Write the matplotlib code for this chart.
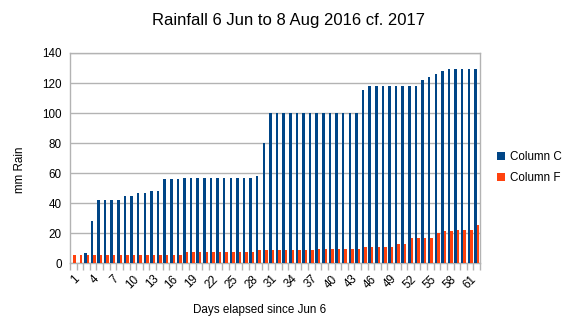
import numpy as np
import matplotlib
matplotlib.use("Agg")
import matplotlib.pyplot as plt

# =========================
# Data
# =========================

days = list(range(1, 63))

column_c = [
    0, 0, 7, 28, 42, 42, 42, 42, 45, 45,
    47, 47, 48, 48, 56, 56, 56, 57, 57, 57,
    57, 57, 57, 57, 57, 57, 57, 57, 58.4, 80,
    100, 100, 100, 100, 100, 100, 100, 100, 100, 100,
    100, 100, 100, 100, 115.5, 117.7, 117.7, 117.7, 117.7, 117.7,
    117.7, 117.7, 117.7, 122.2, 124.2, 126.2, 128.2, 129.3, 129.3, 129.3,
    129.3, 129.3,
]

column_f = [
    5.3, 5.3, 5.3, 5.3, 5.3, 5.3, 5.3, 5.3, 5.3, 5.3,
    5.3, 5.3, 5.3, 5.3, 5.3, 5.3, 5.3, 7.5, 7.5, 7.5,
    7.5, 7.5, 7.5, 7.5, 7.5, 7.5, 7.5, 7.5, 8.8, 8.8,
    8.8, 8.8, 8.8, 8.8, 8.8, 8.8, 8.8, 9.7, 9.7, 9.7,
    9.7, 9.7, 9.7, 9.7, 10.6, 10.6, 10.6, 10.6, 10.6, 12.9,
    12.9, 16.8, 16.8, 16.8, 16.8, 20.2, 21.2, 21.2, 22.1, 22.1,
    22.1, 25.5,
]

tick_days = list(range(1, 62, 3))
y_ticks = [0, 20, 40, 60, 80, 100, 120, 140]

BLUE = "#004586"
RED = "#ff420e"
GRID = "#b3b3b3"

plt.rcParams["font.family"] = ["Liberation Sans", "DejaVu Sans"]

W, H = 566, 321
fig = plt.figure(figsize=(W / 100, H / 100), dpi=100)

# plot area in pixels: left 70, right 480, top 53, bottom 263
ax = fig.add_axes([70 / W, (H - 263.3) / H, 410 / W, (263.3 - 53) / H])

x = np.arange(len(days))
bw = 0.38
ax.bar(x - bw / 2, column_c, width=bw, color=BLUE, label="Column C", zorder=3)
ax.bar(x + bw / 2, column_f, width=bw, color=RED, label="Column F", zorder=3)

ax.set_xlim(-0.5, len(days) - 0.5)
ax.set_ylim(0, 140)

ax.set_yticks(y_ticks)
ax.set_yticklabels([str(v) for v in y_ticks], fontsize=8.4)
ax.yaxis.grid(True, color=GRID, linewidth=1, zorder=0)

# labels at category centres, tick marks at category boundaries
ax.set_xticks([d - 1 for d in tick_days])
ax.set_xticklabels([str(d) for d in tick_days], fontsize=8.4, rotation=45,
                   ha="right", rotation_mode="anchor")
ax.set_xticks(np.arange(-0.5, len(days)), minor=True)
ax.tick_params(axis="x", which="major", length=0, pad=7)
ax.tick_params(axis="x", which="minor", length=5, color=GRID, width=1)
ax.tick_params(axis="y", length=0, pad=6)

for side in ["left", "right", "bottom", "top"]:
    ax.spines[side].set_color(GRID)
    ax.spines[side].set_linewidth(1)

fig.text(20 / W, 1 - 170 / H, "mm Rain", fontsize=8.4, rotation=90,
         ha="center", va="center")
fig.text(260 / W, 1 - 310 / H, "Days elapsed since Jun 6", fontsize=8.4,
         ha="center", va="center")

fig.text(289 / W, 1 - 20 / H, "Rainfall 6 Jun to 8 Aug 2016 cf. 2017",
         fontsize=12, ha="center", va="center")

fig.legend(loc="center left", bbox_to_anchor=(486 / W, 1 - 167.5 / H), frameon=False,
           fontsize=8.4, handlelength=0.7, handleheight=0.7, handletextpad=0.5,
           labelspacing=0.8)

fig.savefig("out.png", dpi=100)
